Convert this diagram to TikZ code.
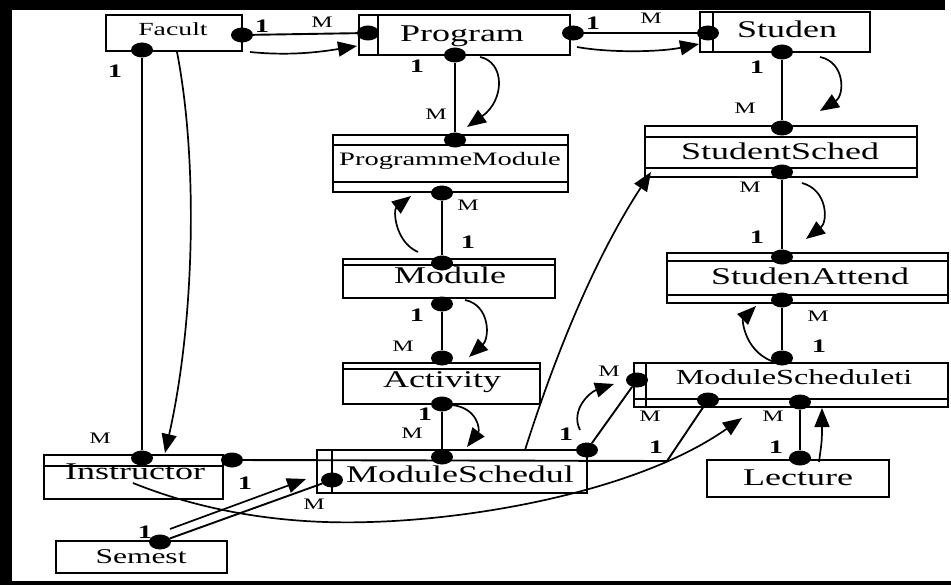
\documentclass[tikz,border=0pt]{standalone}
\usepackage{fontspec}
\setmainfont{Liberation Serif}
\usepackage{graphicx}
\usetikzlibrary{arrows.meta,shapes.geometric}
\newcommand\wide[1]{\scalebox{1.5}[1]{#1}}

\begin{document}
\begin{tikzpicture}[x=1pt,y=-1pt,
  box/.style={draw, line width=1.7pt, inner sep=0pt, outer sep=0pt},
  inline/.style={line width=1.4pt},
  dot/.style={ellipse, fill=black, inner sep=0pt, minimum width=22pt, minimum height=15pt},
  conn/.style={line width=1.9pt},
  flow/.style={line width=1.7pt, -{Triangle[length=19pt,width=15pt]}},
  etext/.style={inner sep=0pt, anchor=base, font=\fontsize{24}{24}\selectfont},
  lab/.style={inner sep=0pt, font=\fontsize{16}{16}\selectfont},
  one/.style={inner sep=0pt, font=\fontsize{19}{19}\selectfont\bfseries},
]
% page and frame
\useasboundingbox (0,0) rectangle (951,586);
\fill[white] (0,0) rectangle (951,586);
\fill[black] (0,0) rectangle (945,10);
\fill[black] (0,0) rectangle (12,584);
\fill[black] (0,581) rectangle (951,585);

% entity boxes
\node[box, minimum width=136pt, minimum height=36pt] (fac)  at (174,33) {};
\node[box, minimum width=211pt, minimum height=40pt] (prog) at (464.5,35) {};
\node[box, minimum width=170pt, minimum height=40pt] (stu)  at (785,32) {};
\node[box, minimum width=235pt, minimum height=57pt] (pm)   at (450.5,163.5) {};
\node[box, minimum width=272pt, minimum height=51pt] (ss)   at (781,151.5) {};
\node[box, minimum width=212pt, minimum height=39pt] (mod)  at (449,278.5) {};
\node[box, minimum width=281pt, minimum height=50pt] (sa)   at (807.5,278) {};
\node[box, minimum width=197pt, minimum height=41pt] (act)  at (441.5,383.5) {};
\node[box, minimum width=314pt, minimum height=44pt] (msi)  at (791,385) {};
\node[box, minimum width=270pt, minimum height=43pt] (ms)   at (452,471.5) {};
\node[box, minimum width=179pt, minimum height=44pt] (ins)  at (133.5,477) {};
\node[box, minimum width=171pt, minimum height=32pt] (sem)  at (141.5,557) {};
\node[box, minimum width=182pt, minimum height=37pt] (lec)  at (798,478.5) {};

% entity names
\node[etext, font=\fontsize{18.5}{18.5}\selectfont] (tfac) at (173,35.5) {\wide{Facult}};
\node[etext] (tprog) at (462,41.5) {\wide{Program}};
\node[etext] (tstu) at (787,37.5) {\wide{Studen}};
\node[etext, font=\fontsize{19}{19}\selectfont] (tpm) at (450,165) {\wide{ProgrammeModule}};
\node[etext] (tss) at (780,159) {\wide{StudentSched}};
\node[etext] (tmod) at (450,283.5) {\wide{Module}};
\node[etext] (tsa) at (810,284) {\wide{StudenAttend}};
\node[etext] (tact) at (442,387) {\wide{Activity}};
\node[etext, font=\fontsize{21.5}{21.5}\selectfont] (tmsi) at (794,384) {\wide{ModuleScheduleti}};
\node[etext] (tms) at (460,482) {\wide{ModuleSchedul}};
\node[etext] (tins) at (135,479) {\wide{Instructor}};
\node[etext, font=\fontsize{21}{21}\selectfont] (tsem) at (141,563) {\wide{Semest}};
\node[etext] (tlec) at (798,485) {\wide{Lecture}};

% inner rules of the boxes
\draw[inline] ([xshift=19pt]prog.north west) -- ([xshift=19pt]prog.south west);
\draw[inline] ([xshift=13pt]stu.north west) -- ([xshift=13pt]stu.south west);
\draw[inline] ([yshift=-10pt]pm.north west) -- ([yshift=-10pt]pm.north east);
\draw[inline] ([yshift=10pt]pm.south west) -- ([yshift=10pt]pm.south east);
\draw[inline] ([yshift=-11pt]ss.north west) -- ([yshift=-11pt]ss.north east);
\draw[inline] ([yshift=9pt]ss.south west) -- ([yshift=9pt]ss.south east);
\draw[inline] ([yshift=-6pt]mod.north west) -- ([yshift=-6pt]mod.north east);
\draw[inline] ([yshift=-8pt]sa.north west) -- ([yshift=-8pt]sa.north east);
\draw[inline] ([yshift=8pt]sa.south west) -- ([yshift=8pt]sa.south east);
\draw[inline] ([yshift=-6pt]act.north west) -- ([yshift=-6pt]act.north east);
\draw[inline] ([xshift=12pt]msi.north west) -- ([xshift=12pt]msi.south west);
\draw[inline] ([yshift=8pt]msi.south west) -- ([yshift=8pt]msi.south east);
\draw[inline] ([xshift=15pt]ms.north west) -- ([xshift=15pt]ms.south west);
\draw[inline] ([yshift=-11pt]ins.north west) -- ([yshift=-11pt]ins.north east);

% relationship ends
\node[dot] (fac-r) at (242,35) {};
\node[dot] (fac-b) at (142,50) {};
\node[dot] (prog-l) at (368,33) {};
\node[dot] (prog-r) at (573,33) {};
\node[dot] (prog-b) at (455,55) {};
\node[dot] (stu-l) at (708,33) {};
\node[dot] (stu-b) at (782,52) {};
\node[dot] (pm-t) at (455,140) {};
\node[dot] (pm-b) at (442,193) {};
\node[dot] (mod-t) at (442,263) {};
\node[dot] (mod-b) at (442,304) {};
\node[dot] (act-t) at (442,358) {};
\node[dot] (act-b) at (442,404) {};
\node[dot] (ms-t) at (442,457) {};
\node[dot] (ms-r) at (587,450) {};
\node[dot] (ms-l) at (332,480) {};
\node[dot] (ss-t) at (782,128) {};
\node[dot] (ss-b) at (782,172) {};
\node[dot] (sa-t) at (782,257) {};
\node[dot] (sa-b) at (782,300) {};
\node[dot] (msi-t) at (782,358) {};
\node[dot] (msi-l) at (637,380) {};
\node[dot] (msi-b1) at (708,400) {};
\node[dot] (msi-b2) at (800,402) {};
\node[dot] (lec-t) at (800,458) {};
\node[dot] (ins-t) at (142,458) {};
\node[dot] (ins-r) at (232,460) {};
\node[dot] (sem-t) at (160,542) {};

% relationship lines
\coordinate (kink) at (667,461);
\draw[conn] (fac-r) -- (prog-l);
\draw[conn] (prog-r) -- (stu-l);
\draw[conn] (prog-b) -- (pm-t);
\draw[conn] (stu-b) -- (ss-t);
\draw[conn] (pm-b) -- (mod-t);
\draw[conn] (mod-b) -- (act-t);
\draw[conn] (act-b) -- (ms-t);
\draw[conn] (ss-b) -- (sa-t);
\draw[conn] (sa-b) -- (msi-t);
\draw[conn] (msi-b2) -- (lec-t);
\draw[conn] (ms-r) -- (msi-l);
\draw[conn] (fac-b) -- (ins-t);
\draw[conn] (ins-r) -- (kink) -- (msi-b1);
\draw[conn] (sem-t) -- (ms-l);

% navigation arrows
\coordinate (a1s) at (250,52);   \coordinate (a1e) at (357,46);
\coordinate (a2s) at (577,47);   \coordinate (a2e) at (699,44);
\coordinate (a3s) at (480,57);   \coordinate (a3e) at (467,127);
\coordinate (a4s) at (820,57);   \coordinate (a4e) at (820,111);
\coordinate (a5s) at (418,252);  \coordinate (a5e) at (411,196);
\coordinate (a6s) at (802,183);  \coordinate (a6e) at (806,239);
\coordinate (a7s) at (465,300);  \coordinate (a7e) at (469,357);
\coordinate (a8s) at (778,363);  \coordinate (a8e) at (756,306);
\coordinate (a9s) at (452,405);  \coordinate (a9e) at (467,447);
\coordinate (a10s) at (580,430); \coordinate (a10e) at (614,384);
\coordinate (a11s) at (819,462); \coordinate (a11e) at (822,408);
\coordinate (a12s) at (177,52);  \coordinate (a12e) at (165,453);
\coordinate (a13s) at (133,483); \coordinate (a13m) at (370,522); \coordinate (a13e) at (742,418);
\coordinate (a14s) at (170,529); \coordinate (a14e) at (306,479);
\coordinate (a15s) at (525,450); \coordinate (a15e) at (651,172);

\draw[flow] (a1s) .. controls (290,56) and (320,52) .. (a1e);
\draw[flow] (a2s) .. controls (610,53) and (660,52) .. (a2e);
\draw[flow] (a3s) .. controls (505,62) and (505,100) .. (a3e);
\draw[flow] (a4s) .. controls (845,62) and (845,95) .. (a4e);
\draw[flow] (a5s) .. controls (395,242) and (393,210) .. (a5e);
\draw[flow] (a6s) .. controls (828,190) and (828,222) .. (a6e);
\draw[flow] (a7s) .. controls (490,305) and (490,338) .. (a7e);
\draw[flow] (a8s) .. controls (745,355) and (742,320) .. (a8e);
\draw[flow] (a9s) .. controls (478,408) and (480,430) .. (a9e);
\draw[flow] (a10s) .. controls (570,410) and (590,392) .. (a10e);
\draw[flow] (a11s) .. controls (822,440) .. (a11e);
\draw[flow] (a12s) .. controls (198,160) and (195,320) .. (a12e);
\draw[flow] (a13s) .. controls (200,510) and (280,525) .. (a13m)
                   .. controls (480,519) and (640,490) .. (a13e);
\draw[flow] (a14s) -- (a14e);
\draw[flow] (a15s) .. controls (560,340) and (600,250) .. (a15e);

% cardinalities
\node[one] (c1)  at (115,71)  {\wide{1}};
\node[one] (c2)  at (262,26)  {\wide{1}};
\node[lab] (c3)  at (322,22)  {\wide{M}};
\node[one] (c4)  at (593,23)  {\wide{1}};
\node[lab] (c5)  at (651,18)  {\wide{M}};
\node[one] (c6)  at (417,66)  {\wide{1}};
\node[lab] (c7)  at (436,114) {\wide{M}};
\node[one] (c8)  at (757,67)  {\wide{1}};
\node[lab] (c9)  at (745,108) {\wide{M}};
\node[lab] (c10) at (468,205) {\wide{M}};
\node[one] (c11) at (468,242) {\wide{1}};
\node[lab] (c12) at (750,187) {\wide{M}};
\node[one] (c13) at (757,237) {\wide{1}};
\node[one] (c14) at (417,315) {\wide{1}};
\node[lab] (c15) at (403,346) {\wide{M}};
\node[lab] (c16) at (818,316) {\wide{M}};
\node[one] (c17) at (819,346) {\wide{1}};
\node[one] (c18) at (425,414) {\wide{1}};
\node[lab] (c19) at (412,433) {\wide{M}};
\node[one] (c20) at (566,434) {\wide{1}};
\node[lab] (c21) at (609,371) {\wide{M}};
\node[lab] (c22) at (650,416) {\wide{M}};
\node[one] (c23) at (656,447) {\wide{1}};
\node[lab] (c24) at (773,416) {\wide{M}};
\node[one] (c25) at (776,447) {\wide{1}};
\node[lab] (c26) at (100,438) {\wide{M}};
\node[one] (c27) at (245,483) {\wide{1}};
\node[one] (c28) at (145,532) {\wide{1}};
\node[lab] (c29) at (314,504) {\wide{M}};
\end{tikzpicture}
\end{document}
